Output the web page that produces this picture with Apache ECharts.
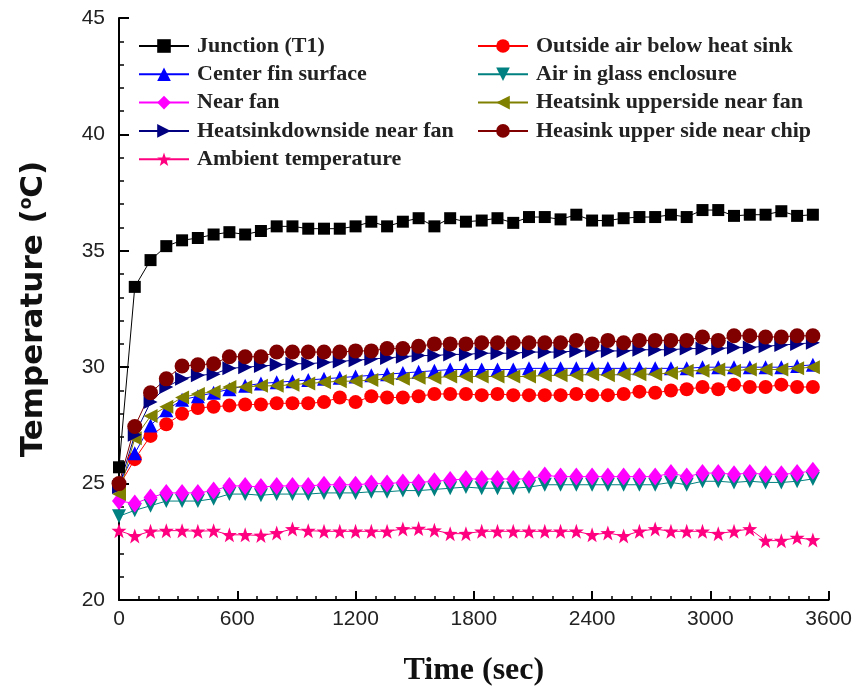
<!DOCTYPE html>
<html>
<head>
<meta charset="utf-8">
<script src="https://cdn.jsdelivr.net/npm/echarts/dist/echarts.min.js"></script>
<style>
  html, body { margin: 0; padding: 0; background: #fff; }
  #main { width: 855px; height: 692px; }
</style>
</head>
<body>
<div id="main"></div>
<script>
// time axis (sec)
var timeSec = [0, 80, 160, 240, 320, 400, 480, 560, 640, 720, 800, 880, 960, 1040, 1120, 1200, 1280, 1360, 1440, 1520, 1600, 1680, 1760,
    1840, 1920, 2000, 2080, 2160, 2240, 2320, 2400, 2480, 2560, 2640, 2720, 2800, 2880, 2960, 3040, 3120, 3200, 3280, 3360, 3440, 3520];

var junction = [25.7, 33.45, 34.6, 35.2, 35.45, 35.55, 35.7, 35.8, 35.7, 35.85, 36.05, 36.05, 35.95, 35.95, 35.95, 36.05, 36.25, 36.05, 36.25, 36.4, 36.05, 36.4, 36.25,
    36.3, 36.4, 36.2, 36.45, 36.45, 36.35, 36.55, 36.3, 36.3, 36.4, 36.45, 36.45, 36.55, 36.45, 36.75, 36.75, 36.5, 36.55, 36.55, 36.7, 36.5, 36.55];
var outsideAir = [24.9, 26.05, 27.05, 27.55, 28.0, 28.25, 28.3, 28.35, 28.4, 28.4, 28.45, 28.45, 28.45, 28.5, 28.7, 28.5, 28.75, 28.7, 28.7, 28.75, 28.85, 28.85, 28.85,
    28.8, 28.85, 28.8, 28.8, 28.8, 28.8, 28.85, 28.8, 28.8, 28.85, 28.95, 28.9, 29.0, 29.05, 29.15, 29.05, 29.25, 29.15, 29.15, 29.25, 29.15, 29.15];
var centerFin = [25.0, 26.3, 27.5, 28.15, 28.6, 28.75, 28.9, 29.05, 29.2, 29.3, 29.35, 29.4, 29.45, 29.5, 29.55, 29.6, 29.65, 29.7, 29.75, 29.8, 29.85, 29.9, 29.9,
    29.9, 29.9, 29.9, 29.95, 29.95, 29.95, 29.95, 29.95, 29.95, 29.95, 29.95, 29.95, 29.95, 29.95, 30.0, 30.0, 30.0, 30.0, 30.0, 30.0, 30.05, 30.1];
var airGlass = [23.6, 23.85, 24.05, 24.25, 24.25, 24.25, 24.35, 24.55, 24.55, 24.5, 24.55, 24.55, 24.55, 24.6, 24.6, 24.6, 24.65, 24.65, 24.7, 24.7, 24.75, 24.8, 24.85,
    24.8, 24.8, 24.8, 24.85, 24.95, 24.95, 24.95, 24.95, 24.95, 24.95, 24.95, 24.95, 25.05, 24.95, 25.1, 25.1, 25.05, 25.1, 25.05, 25.05, 25.1, 25.2];
var nearFan = [24.25, 24.15, 24.4, 24.6, 24.6, 24.6, 24.7, 24.9, 24.9, 24.85, 24.9, 24.9, 24.9, 24.95, 24.95, 24.95, 25.0, 25.0, 25.05, 25.05, 25.1, 25.15, 25.2,
    25.2, 25.2, 25.2, 25.2, 25.35, 25.3, 25.3, 25.3, 25.3, 25.3, 25.3, 25.3, 25.45, 25.3, 25.45, 25.45, 25.4, 25.45, 25.4, 25.4, 25.45, 25.55];
var upperFan = [24.55, 26.95, 27.9, 28.3, 28.7, 28.85, 28.95, 29.15, 29.15, 29.2, 29.2, 29.25, 29.3, 29.35, 29.4, 29.4, 29.45, 29.5, 29.5, 29.55, 29.55, 29.6, 29.6,
    29.6, 29.6, 29.6, 29.6, 29.65, 29.65, 29.65, 29.7, 29.65, 29.7, 29.7, 29.7, 29.75, 29.85, 29.85, 29.9, 29.85, 29.9, 29.9, 29.9, 29.95, 30.0];
var downFan = [24.85, 27.1, 28.5, 29.15, 29.5, 29.65, 29.7, 29.95, 30.0, 30.05, 30.1, 30.15, 30.15, 30.2, 30.25, 30.3, 30.35, 30.4, 30.45, 30.5, 30.5, 30.55, 30.55,
    30.6, 30.6, 30.6, 30.65, 30.65, 30.65, 30.7, 30.7, 30.7, 30.7, 30.75, 30.75, 30.75, 30.8, 30.8, 30.8, 30.85, 30.85, 30.9, 30.95, 31.0, 31.05];
var nearChip = [25.0, 27.45, 28.9, 29.5, 30.05, 30.1, 30.15, 30.45, 30.45, 30.45, 30.65, 30.65, 30.65, 30.65, 30.65, 30.7, 30.7, 30.8, 30.8, 30.9, 31.0, 31.0, 31.0,
    31.05, 31.05, 31.05, 31.05, 31.05, 31.05, 31.15, 31.0, 31.15, 31.05, 31.15, 31.15, 31.15, 31.15, 31.3, 31.15, 31.35, 31.35, 31.3, 31.3, 31.35, 31.35];
var ambient = [22.98, 22.75, 22.95, 22.98, 22.98, 22.95, 22.98, 22.8, 22.8, 22.77, 22.88, 23.05, 22.98, 22.95, 22.95, 22.95, 22.95, 22.95, 23.05, 23.07, 23.0, 22.85, 22.85,
    22.95, 22.95, 22.95, 22.95, 22.95, 22.95, 22.95, 22.8, 22.88, 22.75, 22.95, 23.05, 22.95, 22.95, 22.95, 22.85, 22.95, 23.05, 22.55, 22.55, 22.68, 22.58];

var STAR = 'path://M0,-10L2.35,-3.24L9.51,-3.09L3.8,1.24L5.88,8.09L0,4L-5.88,8.09L-3.8,1.24L-9.51,-3.09L-2.35,-3.24Z';

function pairs(vals) {
    var out = [];
    for (var i = 0; i < vals.length; i++) {
        out.push([timeSec[i], vals[i]]);
    }
    return out;
}

function mkSeries(name, vals, color, symbol, size, rotate) {
    return {
        name: name,
        type: 'line',
        data: pairs(vals),
        symbol: symbol,
        symbolSize: size,
        symbolRotate: rotate || 0,
        showAllSymbol: true,
        clip: false,
        lineStyle: { color: color, width: 1 },
        itemStyle: { color: color, borderWidth: 0 },
        emphasis: { disabled: true }
    };
}

var serifFont = '"Liberation Serif", "Times New Roman", serif';
var sansFont = '"Liberation Sans", Arial, sans-serif';

var legendText = {
    fontFamily: serifFont,
    fontSize: 22,
    fontWeight: 'bold',
    color: '#222',
    lineHeight: 28,
    padding: [0, 0, 0, 3]
};

var myChart = echarts.init(document.getElementById('main'));

var option = {
    animation: false,
    grid: { left: 119, right: 23, top: 18, bottom: 87 },
    legend: [{
        orient: 'vertical',
        left: 138,
        top: 32,
        padding: 0,
        itemWidth: 50,
        itemHeight: 17,
        itemGap: 0.3,
        textStyle: legendText,
        data: ['Junction (T1)', 'Center fin surface', 'Near fan', 'Heatsinkdownside near fan', 'Ambient temperature']
    }, {
        orient: 'vertical',
        left: 477,
        top: 32,
        padding: 0,
        itemWidth: 50,
        itemHeight: 17,
        itemGap: 0.3,
        textStyle: legendText,
        data: ['Outside air below heat sink', 'Air in glass enclosure', 'Heatsink upperside near fan', 'Heasink upper side near chip']
    }],
    xAxis: {
        type: 'value',
        min: 0,
        max: 3600,
        interval: 600,
        name: 'Time (sec)',
        nameLocation: 'middle',
        nameGap: 55,
        nameTextStyle: { fontFamily: serifFont, fontSize: 32, fontWeight: 'bold', color: '#111' },
        axisLine: { show: true, onZero: false, lineStyle: { color: '#000', width: 2 } },
        axisTick: { show: true, inside: true, length: 9, lineStyle: { color: '#000', width: 2 } },
        minorTick: { show: true, splitNumber: 6, length: 4, lineStyle: { color: '#000', width: 1.5 } },
        axisLabel: {
            fontFamily: sansFont, fontSize: 21, color: '#222', margin: 9,
            formatter: function (v) { return String(v); }
        },
        splitLine: { show: false }
    },
    yAxis: {
        type: 'value',
        min: 20,
        max: 45,
        interval: 5,
        name: 'Temperature ({sup|o}C)',
        nameLocation: 'middle',
        nameGap: 70,
        nameTextStyle: {
            fontFamily: '"DejaVu Sans", sans-serif',
            fontSize: 31,
            fontWeight: 'bold',
            color: '#111',
            rich: {
                sup: { fontFamily: '"DejaVu Sans", sans-serif', fontSize: 17, fontWeight: 'bold', color: '#111', verticalAlign: 'top', padding: [0, 0, 12, 0] }
            }
        },
        axisLine: { show: true, lineStyle: { color: '#000', width: 2 } },
        axisTick: { show: true, inside: true, length: 10, lineStyle: { color: '#000', width: 2 } },
        minorTick: { show: true, splitNumber: 5, length: 5, lineStyle: { color: '#000', width: 1.5 } },
        axisLabel: { fontFamily: sansFont, fontSize: 21, color: '#222', margin: 14 },
        splitLine: { show: false }
    },
    series: [
        mkSeries('Junction (T1)', junction, '#000000', 'rect', 12),
        mkSeries('Outside air below heat sink', outsideAir, '#ff0000', 'circle', 14),
        mkSeries('Center fin surface', centerFin, '#0000ff', 'triangle', 14),
        mkSeries('Air in glass enclosure', airGlass, '#008080', 'triangle', 14, 180),
        mkSeries('Near fan', nearFan, '#ff00ff', 'diamond', [14, 18]),
        mkSeries('Heatsink upperside near fan', upperFan, '#808000', 'triangle', 14, 90),
        mkSeries('Heatsinkdownside near fan', downFan, '#000080', 'triangle', 14, -90),
        mkSeries('Heasink upper side near chip', nearChip, '#800000', 'circle', 15),
        mkSeries('Ambient temperature', ambient, '#ff0080', STAR, 15)
    ]
};

myChart.setOption(option);
</script>
</body>
</html>
